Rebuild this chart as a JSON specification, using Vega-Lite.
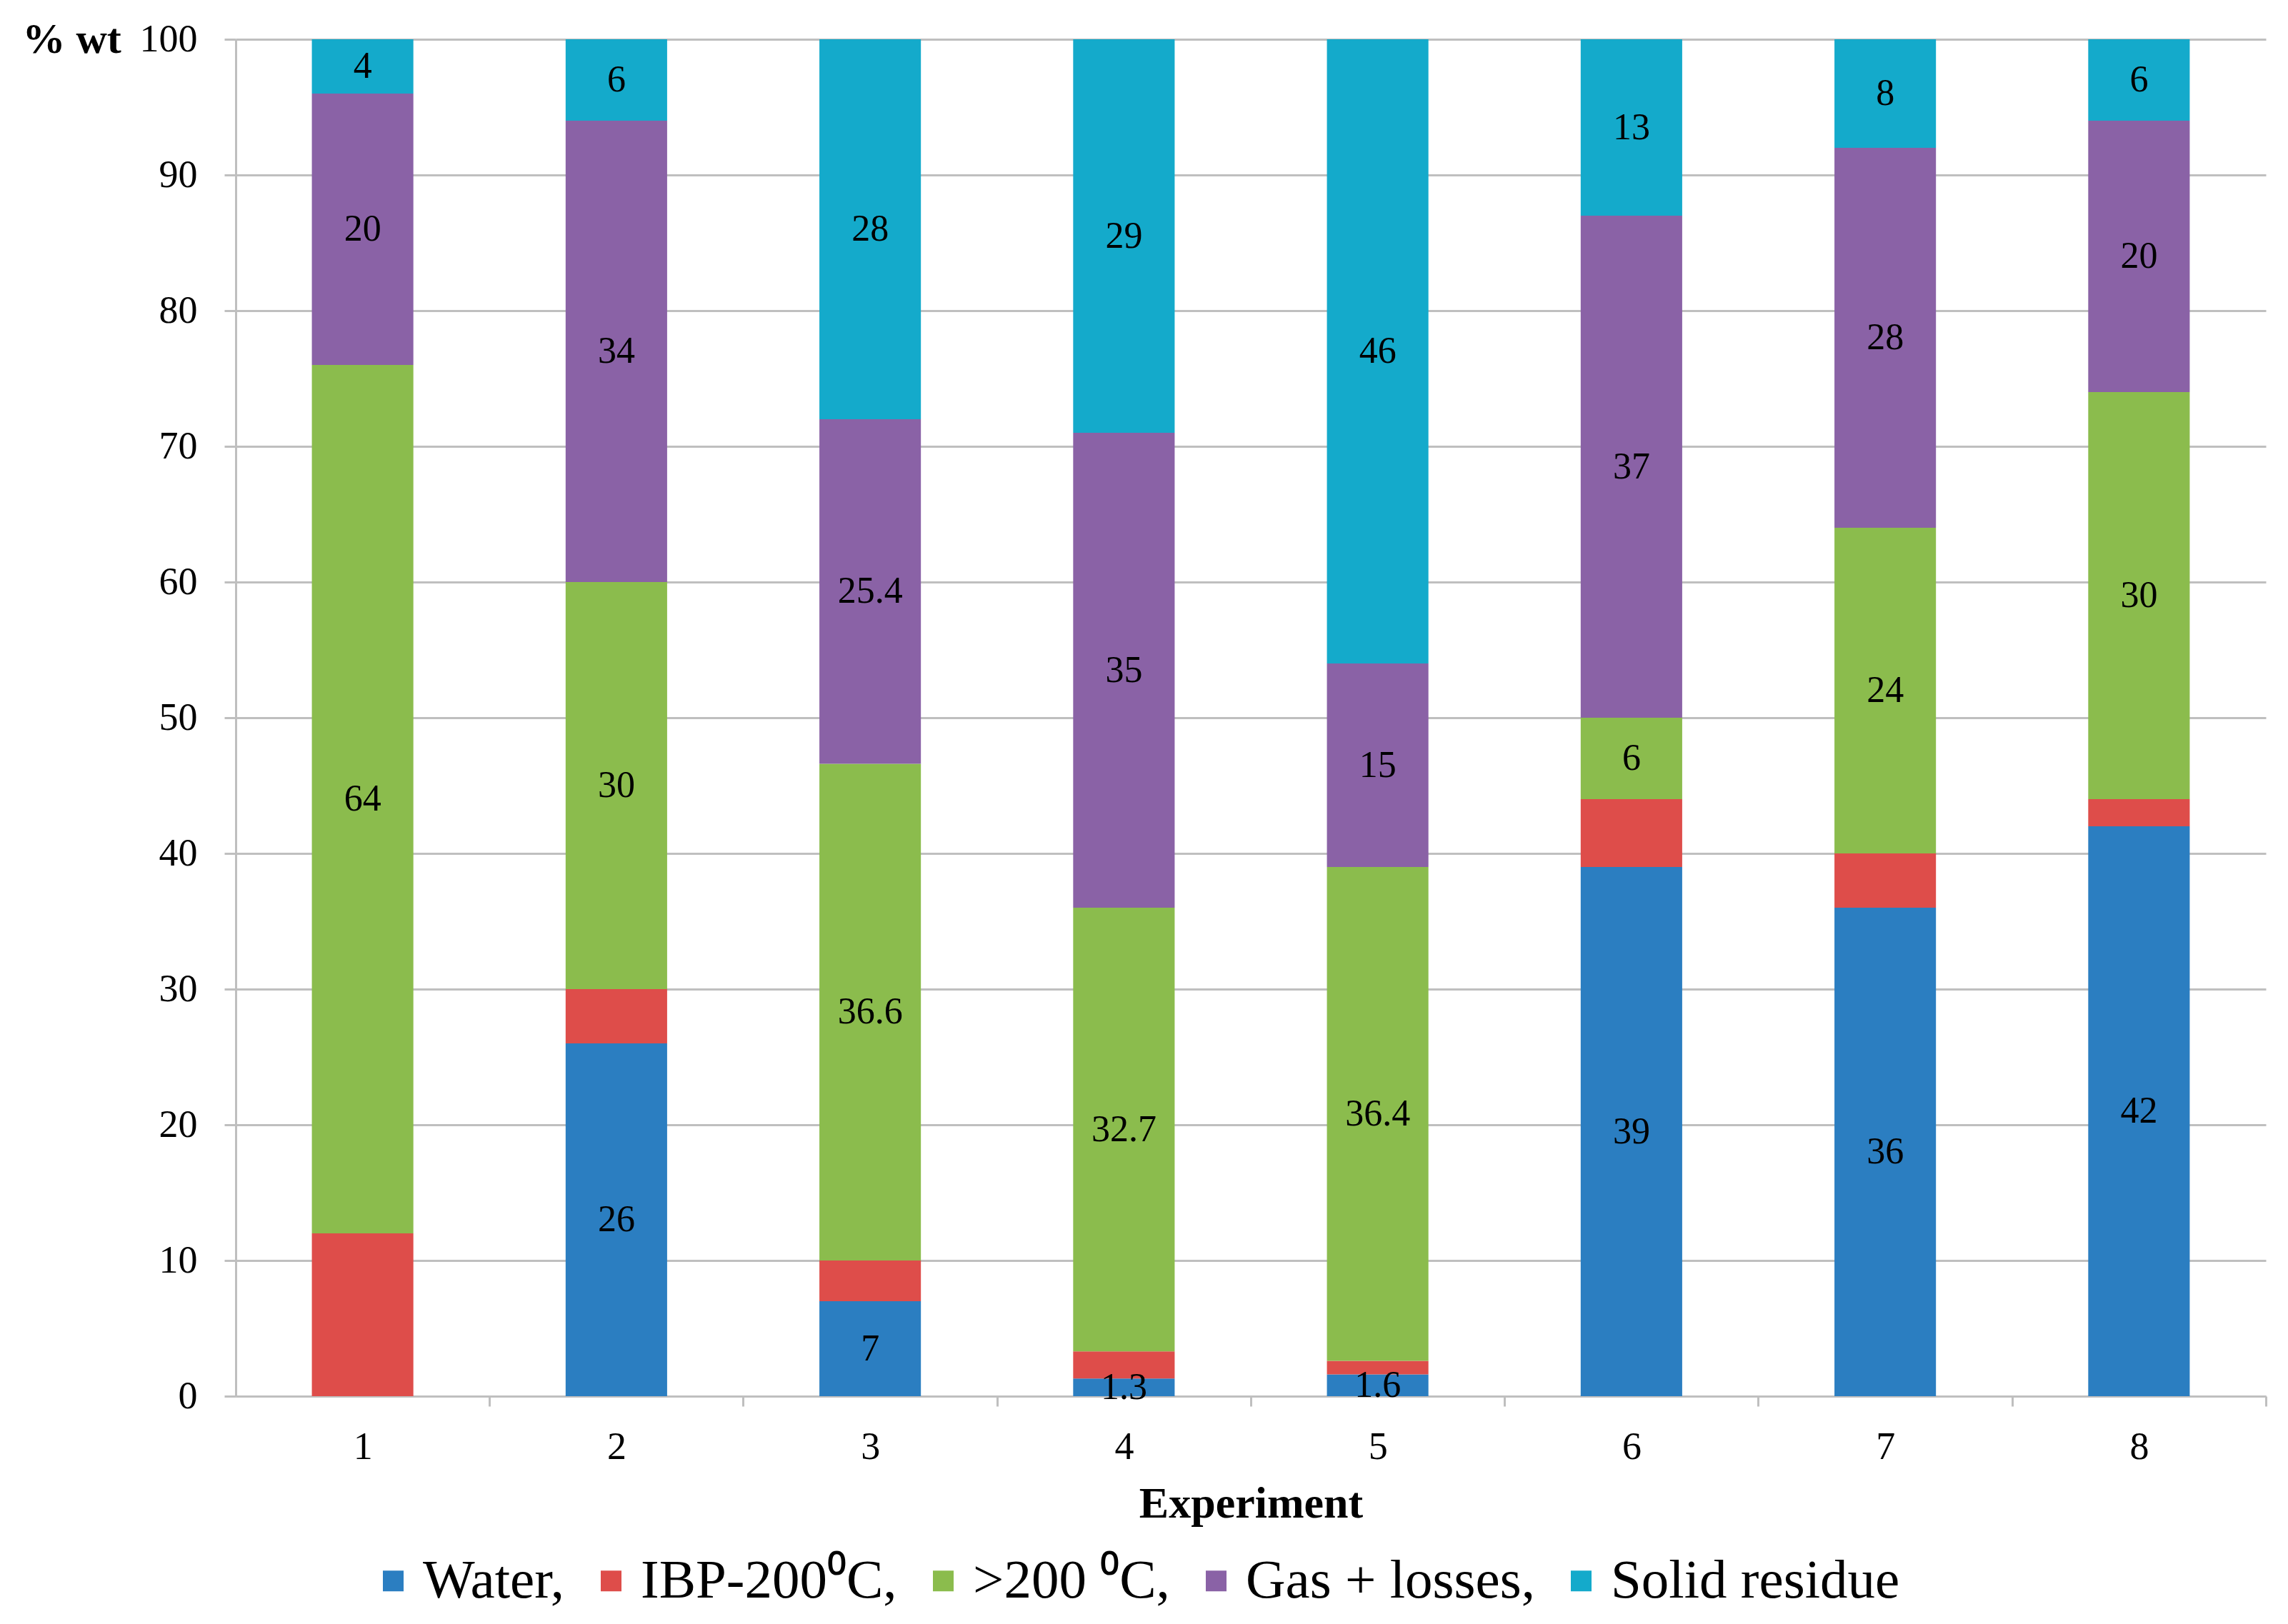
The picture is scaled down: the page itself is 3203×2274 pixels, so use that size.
{
  "$schema": "https://vega.github.io/schema/vega-lite/v6.json",
  "autosize": {"type": "none"},
  "width": 2842,
  "height": 1900,
  "padding": {"left": 330, "top": 55, "right": 31, "bottom": 319},
  "background": "white",
  "config": {"font": "Liberation Serif", "view": {"stroke": null}},
  "data": {
    "values": [
      {"exp": "1", "s": "Water,", "k": 1, "v": 0},
      {"exp": "1", "s": "IBP-200⁰C,", "k": 2, "v": 12},
      {"exp": "1", "s": ">200 ⁰C,", "k": 3, "v": 64},
      {"exp": "1", "s": "Gas + losses,", "k": 4, "v": 20},
      {"exp": "1", "s": "Solid residue", "k": 5, "v": 4},
      {"exp": "2", "s": "Water,", "k": 1, "v": 26},
      {"exp": "2", "s": "IBP-200⁰C,", "k": 2, "v": 4},
      {"exp": "2", "s": ">200 ⁰C,", "k": 3, "v": 30},
      {"exp": "2", "s": "Gas + losses,", "k": 4, "v": 34},
      {"exp": "2", "s": "Solid residue", "k": 5, "v": 6},
      {"exp": "3", "s": "Water,", "k": 1, "v": 7},
      {"exp": "3", "s": "IBP-200⁰C,", "k": 2, "v": 3},
      {"exp": "3", "s": ">200 ⁰C,", "k": 3, "v": 36.6},
      {"exp": "3", "s": "Gas + losses,", "k": 4, "v": 25.4},
      {"exp": "3", "s": "Solid residue", "k": 5, "v": 28},
      {"exp": "4", "s": "Water,", "k": 1, "v": 1.3},
      {"exp": "4", "s": "IBP-200⁰C,", "k": 2, "v": 2},
      {"exp": "4", "s": ">200 ⁰C,", "k": 3, "v": 32.7},
      {"exp": "4", "s": "Gas + losses,", "k": 4, "v": 35},
      {"exp": "4", "s": "Solid residue", "k": 5, "v": 29},
      {"exp": "5", "s": "Water,", "k": 1, "v": 1.6},
      {"exp": "5", "s": "IBP-200⁰C,", "k": 2, "v": 1},
      {"exp": "5", "s": ">200 ⁰C,", "k": 3, "v": 36.4},
      {"exp": "5", "s": "Gas + losses,", "k": 4, "v": 15},
      {"exp": "5", "s": "Solid residue", "k": 5, "v": 46},
      {"exp": "6", "s": "Water,", "k": 1, "v": 39},
      {"exp": "6", "s": "IBP-200⁰C,", "k": 2, "v": 5},
      {"exp": "6", "s": ">200 ⁰C,", "k": 3, "v": 6},
      {"exp": "6", "s": "Gas + losses,", "k": 4, "v": 37},
      {"exp": "6", "s": "Solid residue", "k": 5, "v": 13},
      {"exp": "7", "s": "Water,", "k": 1, "v": 36},
      {"exp": "7", "s": "IBP-200⁰C,", "k": 2, "v": 4},
      {"exp": "7", "s": ">200 ⁰C,", "k": 3, "v": 24},
      {"exp": "7", "s": "Gas + losses,", "k": 4, "v": 28},
      {"exp": "7", "s": "Solid residue", "k": 5, "v": 8},
      {"exp": "8", "s": "Water,", "k": 1, "v": 42},
      {"exp": "8", "s": "IBP-200⁰C,", "k": 2, "v": 2},
      {"exp": "8", "s": ">200 ⁰C,", "k": 3, "v": 30},
      {"exp": "8", "s": "Gas + losses,", "k": 4, "v": 20},
      {"exp": "8", "s": "Solid residue", "k": 5, "v": 6}
    ]
  },
  "encoding": {
    "x": {
      "field": "exp",
      "type": "ordinal",
      "scale": {"paddingInner": 0.6, "paddingOuter": 0.3},
      "axis": {
        "title": "Experiment",
        "titleFontSize": 62,
        "titleFontWeight": "bold",
        "titleColor": "black",
        "titlePadding": 22,
        "labelAngle": 0,
        "labelFontSize": 54,
        "labelColor": "black",
        "labelPadding": 30,
        "labelOffset": -177.6,
        "tickOffset": 177.6,
        "tickSize": 14,
        "tickWidth": 3,
        "tickColor": "#BFBFBF",
        "domainColor": "#BFBFBF",
        "domainWidth": 3,
        "grid": false
      }
    },
    "order": {"field": "k", "type": "quantitative"}
  },
  "layer": [
    {
      "mark": {"type": "bar"},
      "encoding": {
        "y": {
          "field": "v",
          "type": "quantitative",
          "stack": "zero",
          "scale": {"domain": [0, 100], "nice": false},
          "axis": {
            "values": [0, 10, 20, 30, 40, 50, 60, 70, 80, 90, 100],
            "title": "% wt",
            "titleAngle": 0,
            "titleFontSize": 60,
            "titleFontWeight": "bold",
            "titleColor": "black",
            "titleAlign": "left",
            "titleBaseline": "middle",
            "titleX": -299,
            "titleY": 0,
            "labelFontSize": 54,
            "labelColor": "black",
            "labelPadding": 38,
            "tickSize": 16,
            "tickWidth": 3,
            "tickColor": "#BFBFBF",
            "domainColor": "#BFBFBF",
            "domainWidth": 3,
            "grid": true,
            "gridColor": "#BFBFBF",
            "gridWidth": 3
          }
        },
        "color": {
          "field": "s",
          "type": "nominal",
          "scale": {
            "domain": ["Water,", "IBP-200⁰C,", ">200 ⁰C,", "Gas + losses,", "Solid residue"],
            "range": ["#2B7EC1", "#DE4D4A", "#8BBC4D", "#8A62A6", "#14AACB"]
          },
          "legend": {
            "title": null,
            "orient": "none",
            "direction": "horizontal",
            "legendX": 182,
            "legendY": 2120,
            "symbolType": "square",
            "symbolSize": 841,
            "symbolStrokeWidth": 0,
            "labelFontSize": 77,
            "labelColor": "black",
            "labelOffset": 3,
            "columnPadding": 26,
            "labelLimit": 1000
          }
        }
      }
    },
    {
      "mark": {"type": "text", "fontSize": 52, "color": "black", "baseline": "middle"},
      "encoding": {
        "y": {"field": "v", "type": "quantitative", "stack": "zero", "bandPosition": 0.5},
        "detail": {"field": "s", "type": "nominal"},
        "text": {
          "condition": {"test": "datum.k === 2 || datum.v === 0", "value": ""},
          "field": "v",
          "type": "quantitative"
        }
      }
    }
  ]
}
